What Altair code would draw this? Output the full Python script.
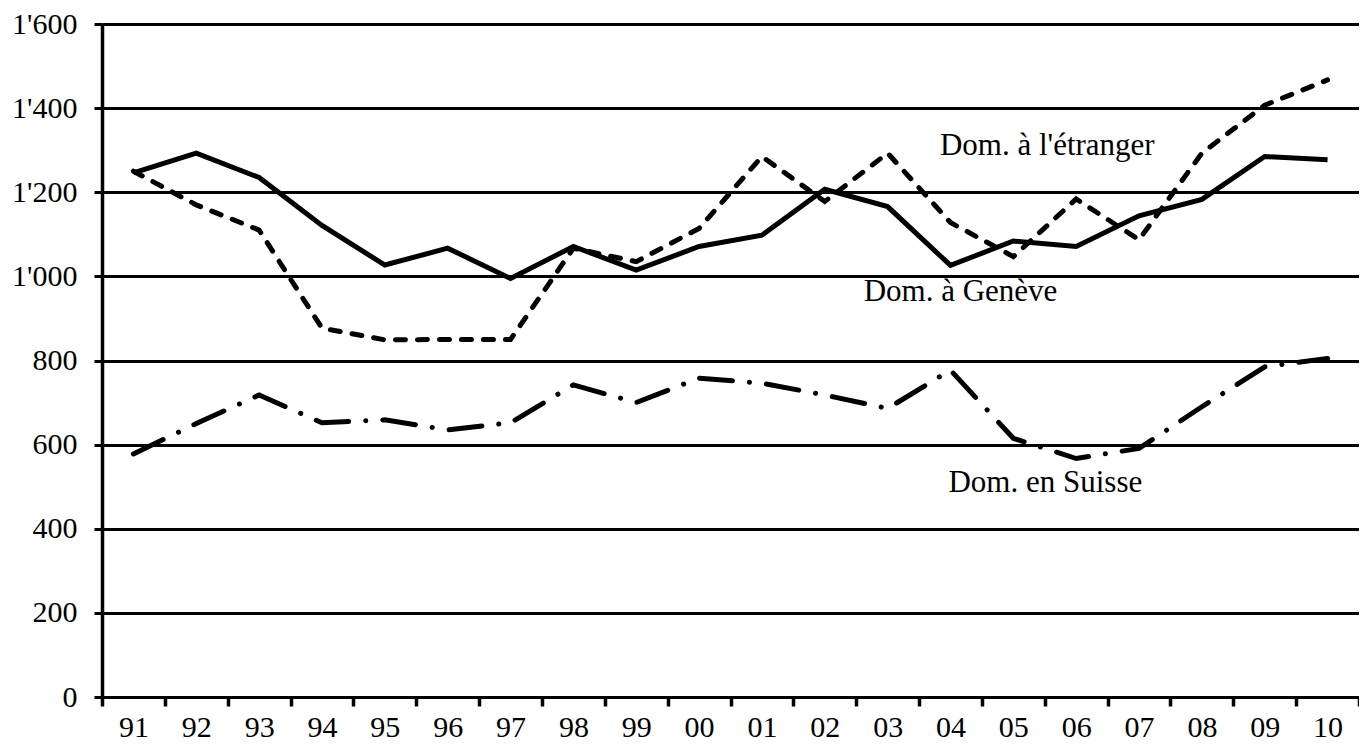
import altair as alt
import pandas as pd

years = ["91", "92", "93", "94", "95", "96", "97", "98", "99", "00",
         "01", "02", "03", "04", "05", "06", "07", "08", "09", "10"]
geneve = [1246, 1293, 1235, 1121, 1027, 1067, 995, 1071, 1015, 1071,
          1098, 1207, 1166, 1026, 1084, 1071, 1144, 1183, 1285, 1277]
etranger = [1250, 1170, 1110, 877, 849, 850, 850, 1067, 1035, 1114,
            1285, 1178, 1293, 1128, 1047, 1184, 1087, 1293, 1407, 1467]
suisse = [578, 650, 718, 652, 659, 635, 652, 742, 700, 758,
          746, 718, 686, 777, 615, 567, 591, 690, 785, 805]

label_text = ["Dom. à l'étranger", "Dom. à Genève", "Dom. en Suisse"]
label_year = ["05", "04", "05"]
label_value = [1310, 962, 508]
label_dx = [34, 10, 32]

y_ticks = [0, 200, 400, 600, 800, 1000, 1200, 1400, 1600]

df = pd.DataFrame({"year": years, "geneve": geneve, "etranger": etranger, "suisse": suisse})
lab = pd.DataFrame({"text": label_text, "year": label_year, "value": label_value, "dx": label_dx})

FONT = "Liberation Serif"

x_axis = alt.Axis(labelAngle=0, tickBand="extent", grid=False, ticks=True,
                  domainColor="black", domainWidth=3,
                  tickColor="black", tickWidth=3.5, tickSize=9, tickOpacity=1,
                  labelFont=FONT, labelFontSize=30, labelColor="black",
                  labelPadding=6)
x_scale = alt.Scale(paddingInner=0, paddingOuter=0)
y_scale = alt.Scale(domain=[0, 1600], nice=False)
y_axis = alt.Axis(values=y_ticks, grid=True, ticks=True, gridColor="black", gridWidth=3, gridOpacity=1,
                  domainColor="black", domainWidth=3.5,
                  tickColor="black", tickWidth=3, tickSize=8,
                  labelFont=FONT, labelFontSize=30, labelColor="black", labelPadding=17,
                  labelExpr="replace(format(datum.value, ','), ',', \"'\")")

base = alt.Chart(df)
x_enc = alt.X("year:N", sort=years, title=None, scale=x_scale, axis=x_axis)

l_gen = base.mark_line(color="black", strokeWidth=5, strokeJoin="miter").encode(
    x=x_enc, y=alt.Y("geneve:Q", scale=y_scale, axis=y_axis, title=None))
l_etr = base.mark_line(color="black", strokeWidth=5, strokeDash=[10, 12], strokeCap="round").encode(
    x=x_enc, y=alt.Y("etranger:Q", scale=y_scale, axis=y_axis, title=None))
l_sui = base.mark_line(color="black", strokeWidth=5, strokeDash=[33, 17, 0.1, 17], strokeCap="round").encode(
    x=x_enc, y=alt.Y("suisse:Q", scale=y_scale, axis=y_axis, title=None))

texts = []
for i in range(len(label_text)):
    texts.append(
        alt.Chart(lab.iloc[[i]]).mark_text(font=FONT, fontSize=31, color="black",
                                           align="center", baseline="middle", dx=label_dx[i]).encode(
            x=alt.X("year:N", sort=years, title=None, scale=x_scale, axis=x_axis),
            y=alt.Y("value:Q", scale=y_scale, axis=y_axis, title=None),
            text="text:N")
    )

chart = alt.layer(l_gen, l_etr, l_sui, *texts).properties(
    width=1257, height=673,
    autosize=alt.AutoSizeParams(type="none"),
    padding={"left": 94, "top": 16, "right": 0, "bottom": 46},
    background="white",
).configure_view(stroke=None)

chart.save("out.html", embed_options={"renderer": "svg", "actions": False})
